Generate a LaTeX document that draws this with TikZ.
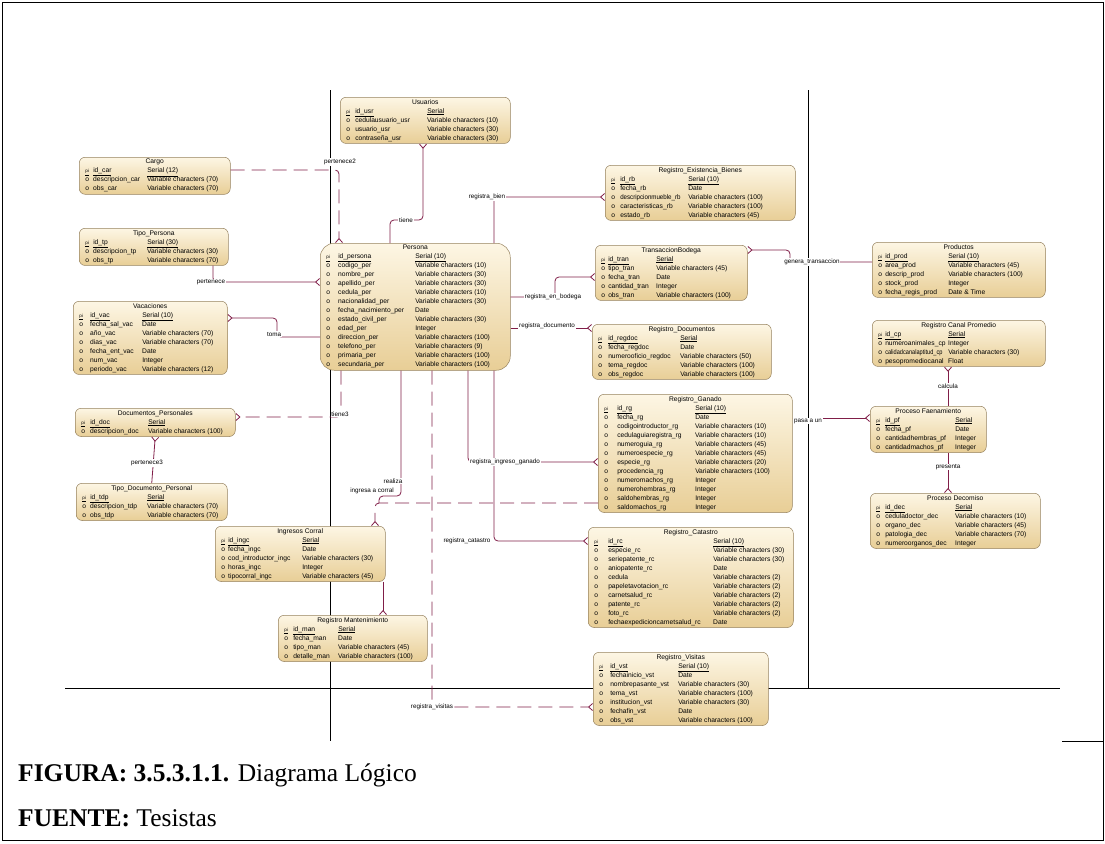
\documentclass[tikz,border=0pt]{standalone}
\usepackage{fontspec}
\setmainfont{Liberation Serif}
\newfontfamily\dsans{Liberation Sans}
\usetikzlibrary{arrows.meta}
\definecolor{rel}{RGB}{128,30,72}
\definecolor{entb}{RGB}{150,130,95}
\definecolor{enttop}{RGB}{253,246,228}
\definecolor{entbot}{RGB}{232,206,150}
\newlength\mwl \newlength\nwl
\newcommand\pkm{{\fontsize{4.5}{4.5}\selectfont\underline{pi}}}
\newcommand\pr[2]{\hbox{\kern6pt\makebox[\mwl][l]{\pkm}\makebox[\nwl][l]{\underline{#1}}\underline{#2}}}
\newcommand\ar[2]{\hbox{\kern6pt\makebox[\mwl][l]{o}\makebox[\nwl][l]{#1}#2}}
\newcommand\ent[9][6pt]{%
  \node[entity,rounded corners=#1,minimum width=#5pt] (#2) at (#3,#4) {%
    \setlength\mwl{\dimexpr#6pt-6pt\relax}\setlength\nwl{\dimexpr#7pt-#6pt\relax}%
    \vbox{\hsize=#5pt\centerline{#8}#9}};}
\tikzset{
  entity/.style={draw=entb, line width=0.5pt, top color=enttop, bottom color=entbot,
    anchor=north west, inner xsep=0pt, inner ysep=2pt,
    font=\dsans\fontsize{6.7}{9}\selectfont},
  lbl/.style={font=\dsans\fontsize{6.3}{7}\selectfont, fill=white, inner sep=0.8pt},
  relc/.style={draw=rel, line width=0.8pt, rounded corners=4pt},
  dash2/.style={dash pattern=on 14pt off 7pt},
  many/.style={-{Straight Barb[reversed,length=4pt,width=7pt]}},
  manys/.style={{Straight Barb[reversed,length=4pt,width=7pt]}-},
  lane/.style={draw=black, line width=0.6pt},
}
\begin{document}
\begin{tikzpicture}[x=1pt,y=-1pt]
\useasboundingbox (0,0) rectangle (1105,843);
% frame
\draw[line width=0.8pt] (2,2) rectangle (1103,840);
\draw[line width=0.8pt] (1062,741) -- (1103,741);
% lanes
\draw[lane] (330,90) -- (330,741);
\draw[lane] (808,90) -- (808,688);
\draw[lane] (65,688) -- (1060,688);

% entities
\ent{cargo}{79}{157}{151}{14}{68}{Cargo}{\pr{id\_car}{Serial (12)}\ar{descripcion\_car}{Variable characters (70)}\ar{obs\_car}{Variable characters (70)}}
\ent{tipop}{79}{228}{149}{14}{68}{Tipo\_Persona}{\pr{id\_tp}{Serial (30)}\ar{descripcion\_tp}{Variable characters (30)}\ar{obs\_tp}{Variable characters (70)}}
\ent{usuarios}{340}{97}{170}{15}{87}{Usuarios}{\pr{id\_usr}{Serial}\ar{cedulausuario\_usr}{Variable characters (10)}\ar{usuario\_usr}{Variable characters (30)}\ar{contraseña\_usr}{Variable characters (30)}}
\ent[14pt]{persona}{320}{243}{190}{18}{95}{Persona}{\pr{id\_persona}{Serial (10)}\ar{codigo\_per}{Variable characters (10)}\ar{nombre\_per}{Variable characters (30)}\ar{apellido\_per}{Variable characters (30)}\ar{cedula\_per}{Variable characters (10)}\ar{nacionalidad\_per}{Variable characters (30)}\ar{fecha\_nacimiento\_per}{Date}\ar{estado\_civil\_per}{Variable characters (30)}\ar{edad\_per}{Integer}\ar{direccion\_per}{Variable characters (100)}\ar{telefono\_per}{Variable characters (9)}\ar{primaria\_per}{Variable characters (100)}\ar{secundaria\_per}{Variable characters (100)}}
\ent{reb}{605}{165}{190}{15}{83}{Registro\_Existencia\_Bienes}{\pr{id\_rb}{Serial (10)}\ar{fecha\_rb}{Date}\ar{\scalebox{0.92}[1]{descripcionmueble\_rb}}{Variable characters (100)}\ar{caracteristicas\_rb}{Variable characters (100)}\ar{estado\_rb}{Variable characters (45)}}
\ent{tb}{595}{245}{152}{13}{61}{TransaccionBodega}{\pr{id\_tran}{Serial}\ar{tipo\_tran}{Variable characters (45)}\ar{fecha\_tran}{Date}\ar{cantidad\_tran}{Integer}\ar{obs\_tran}{Variable characters (100)}}
\ent{rd}{592}{324}{179}{16}{88}{Registro\_Documentos}{\pr{id\_regdoc}{Serial}\ar{fecha\_regdoc}{Date}\ar{numerooficio\_regdoc}{Variable characters (50)}\ar{tema\_regdoc}{Variable characters (100)}\ar{obs\_regdoc}{Variable characters (100)}}
\ent{prod}{872}{242}{173}{13}{76}{Productos}{\pr{id\_prod}{Serial (10)}\ar{area\_prod}{Variable characters (45)}\ar{descrip\_prod}{Variable characters (100)}\ar{stock\_prod}{Integer}\ar{fecha\_regis\_prod}{Date \& Time}}
\ent{rcp}{872}{320}{173}{13}{76}{Registro Canal Promedio}{\pr{id\_cp}{Serial}\ar{numeroanimales\_cp}{Integer}\ar{\scalebox{0.84}[1]{calidadcanalaptitud\_cp}}{Variable characters (30)}\ar{pesopromediocanal}{Float}}
\ent{pf}{870}{406}{116}{15}{85}{Proceso Faenamiento}{\pr{id\_pf}{Serial}\ar{fecha\_pf}{Date}\ar{cantidadhembras\_pf}{Integer}\ar{cantidadmachos\_pf}{Integer}}
\ent{pd}{870}{493}{170}{15}{85}{Proceso Decomiso}{\pr{id\_dec}{Serial}\ar{ceduladoctor\_dec}{Variable characters (10)}\ar{organo\_dec}{Variable characters (45)}\ar{patologia\_dec}{Variable characters (70)}\ar{numeroorganos\_dec}{Integer}}
\ent{rg}{598}{394}{194}{19}{97}{Registro\_Ganado}{\pr{id\_rg}{Serial (10)}\ar{fecha\_rg}{Date}\ar{codigointroductor\_rg}{Variable characters (10)}\ar{cedulaguiaregistra\_rg}{Variable characters (10)}\ar{numeroguia\_rg}{Variable characters (45)}\ar{numeroespecie\_rg}{Variable characters (45)}\ar{especie\_rg}{Variable characters (20)}\ar{procedencia\_rg}{Variable characters (100)}\ar{numeromachos\_rg}{Integer}\ar{numerohembras\_rg}{Integer}\ar{saldohembras\_rg}{Integer}\ar{saldomachos\_rg}{Integer}}
\ent{rc}{588}{527}{205}{20}{125}{Registro\_Catastro}{\pr{id\_rc}{Serial (10)}\ar{especie\_rc}{Variable characters (30)}\ar{seriepatente\_rc}{Variable characters (30)}\ar{aniopatente\_rc}{Date}\ar{cedula}{Variable characters (2)}\ar{papeletavotacion\_rc}{Variable characters (2)}\ar{carnetsalud\_rc}{Variable characters (2)}\ar{patente\_rc}{Variable characters (2)}\ar{foto\_rc}{Variable characters (2)}\ar{fechaexpedicioncarnetsalud\_rc}{Date}}
\ent{rv}{593}{652}{175}{17}{85}{Registro\_Visitas}{\pr{id\_vst}{Serial (10)}\ar{fechainicio\_vst}{Date}\ar{nombrepasante\_vst}{Variable characters (30)}\ar{tema\_vst}{Variable characters (100)}\ar{institucion\_vst}{Variable characters (30)}\ar{fechafin\_vst}{Date}\ar{obs\_vst}{Variable characters (100)}}
\ent{vac}{73}{301}{154}{17}{69}{Vacaciones}{\pr{id\_vac}{Serial (10)}\ar{fecha\_sal\_vac}{Date}\ar{año\_vac}{Variable characters (70)}\ar{dias\_vac}{Variable characters (70)}\ar{fecha\_ent\_vac}{Date}\ar{num\_vac}{Integer}\ar{periodo\_vac}{Variable characters (12)}}
\ent{dp}{75}{408}{160}{15}{73}{Documentos\_Personales}{\pr{id\_doc}{Serial}\ar{descripcion\_doc}{Variable characters (100)}}
\ent{tdp}{76}{483}{151}{14}{71}{Tipo\_Documento\_Personal}{\pr{id\_tdp}{Serial}\ar{descripcion\_tdp}{Variable characters (70)}\ar{obs\_tdp}{Variable characters (70)}}
\ent{ic}{215}{526}{170}{13}{87}{Ingresos Corral}{\pr{id\_ingc}{Serial}\ar{fecha\_ingc}{Date}\ar{cod\_introductor\_ingc}{Variable characters (30)}\ar{horas\_ingc}{Integer}\ar{tipocorral\_ingc}{Variable characters (45)}}
\ent{rm}{278}{615}{149}{15}{60}{Registro Mantenimiento}{\pr{id\_man}{Serial}\ar{fecha\_man}{Date}\ar{tipo\_man}{Variable characters (45)}\ar{detalle\_man}{Variable characters (100)}}

% bend coordinates
\coordinate (b1) at (339,170);
\coordinate (b2a) at (423,220); \coordinate (b2b) at (390,220);
\coordinate (b3) at (494,197);
\coordinate (b4) at (213,282);
\coordinate (b5a) at (277,318); \coordinate (b5b) at (277,337);
\coordinate (b6) at (341,417);
\coordinate (b8a) at (555,297); \coordinate (b8b) at (555,277);
\coordinate (b9) at (510,328);
\coordinate (b10a) at (790,250); \coordinate (b10b) at (790,262);
\coordinate (b11) at (948,386);
\coordinate (b13) at (800,418);
\coordinate (b14) at (468,462);
\coordinate (b15) at (494,541);
\coordinate (b16) at (432,707);
\coordinate (b17) at (375,503);
\coordinate (b18a) at (401,496); \coordinate (b18b) at (379,496);
\coordinate (b19) at (383,600);

% connectors
\draw[relc,dash2,many] (cargo.east |- b1) -- (b1) -- (b1 |- persona.north);
\draw[relc,manys] (usuarios.south -| b2a) -- (b2a) -- (b2b) -- (b2b |- persona.north);
\draw[relc,many] (b3 |- persona.north) -- (b3) -- (b3 -| reb.west);
\draw[relc,many] (tipop.south -| b4) -- (b4) -- (b4 -| persona.west);
\draw[relc,manys] (vac.east |- b5a) -- (b5a) -- (b5b) -- (b5b -| persona.west);
\draw[relc,dash2,many] (b6 |- persona.south) -- (b6) -- (b6 -| dp.east);
\draw[relc,manys] (dp.south) -- (tdp.north);
\draw[relc,many] (persona.east |- b8a) -- (b8a) -- (b8b) -- (b8b -| tb.west);
\draw[relc,many] (persona.east |- b9) -- (b9 -| rd.west);
\draw[relc,manys] (tb.east |- b10a) -- (b10a) -- (b10b) -- (b10b -| prod.west);
\draw[relc,manys] (rcp.south -| b11) -- (b11 |- pf.north);
\draw[relc,many] (pf.south -| b11) -- (b11 |- pd.north);
\draw[relc,many] (rg.east |- b13) -- (b13 -| pf.west);
\draw[relc,many] (b14 |- persona.south) -- (b14) -- (b14 -| rg.west);
\draw[relc,many] (b15 |- persona.south) -- (b15) -- (b15 -| rc.west);
\draw[relc,dash2,many] (b16 |- persona.south) -- (b16) -- (b16 -| rv.west);
\draw[relc,dash2,many] (rg.west |- b17) -- (b17) -- (b17 |- ic.north);
\draw[relc] (b18a |- persona.south) -- (b18a) -- (b18b) -- (b18b |- b17);
\draw[relc,many] (ic.south -| b19) -- (b19 |- rm.north);

% labels
\node[lbl] (l1) at (340,162) {pertenece2};
\node[lbl] (l2) at (406,220) {tiene};
\node[lbl] (l3) at (487,197) {registra\_bien};
\node[lbl] (l4) at (211,282) {pertenece};
\node[lbl] (l5) at (274,334) {toma};
\node[lbl] (l6) at (340,414) {tiene3};
\node[lbl] (l7) at (147,463) {pertenece3};
\node[lbl] (l8) at (553,297) {registra\_en\_bodega};
\node[lbl] (l9) at (547,326) {registra\_documento};
\node[lbl] (l10) at (812,262) {genera\_transaccion};
\node[lbl] (l11) at (948,386) {calcula};
\node[lbl] (l12) at (948,467) {presenta};
\node[lbl] (l13) at (808,421) {pasa a un};
\node[lbl] (l14) at (505,462) {registra\_ingreso\_ganado};
\node[lbl] (l15) at (467,541) {registra\_catastro};
\node[lbl] (l16) at (432,707) {registra\_visitas};
\node[lbl] (l17) at (372,491) {ingresa a corral};
\node[lbl] (l18) at (393,481) {realiza};

% caption
\node[anchor=base west, inner sep=0pt, font=\fontsize{25.5}{30}\selectfont] (cap1) at (18,781) {\textbf{FIGURA: 3.5.3.1.1.} Diagrama Lógico};
\node[anchor=base west, inner sep=0pt, font=\fontsize{25.5}{30}\selectfont] (cap2) at (18,826) {\textbf{FUENTE:} Tesistas};
\end{tikzpicture}
\end{document}
